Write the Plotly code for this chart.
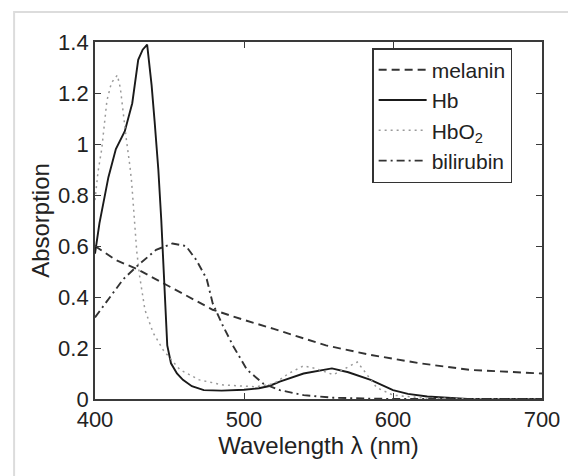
import plotly.graph_objects as go

# ---- data ----
melanin_wl = [400, 414, 428, 444, 459, 479, 500, 520, 555, 585, 618, 652, 700]
melanin_ab = [0.60, 0.545, 0.51, 0.46, 0.415, 0.35, 0.31, 0.275, 0.21, 0.173, 0.14, 0.114, 0.10]

hb_wl = [400, 403, 409, 414, 420, 425, 429, 432, 435, 438, 440, 442.5, 444.5, 446.5, 448.5,
         451, 455, 459, 465, 473, 485, 500, 510, 517, 524, 540, 559, 570, 585, 600, 610, 623,
         640, 650, 700]
hb_ab = [0.57, 0.69, 0.87, 0.98, 1.05, 1.16, 1.33, 1.37, 1.39, 1.23, 1.09, 0.90, 0.70, 0.45, 0.21,
         0.14, 0.10, 0.075, 0.05, 0.035, 0.033, 0.036, 0.042, 0.051, 0.068, 0.10, 0.12, 0.105, 0.075,
         0.035, 0.02, 0.01, 0.003, 0.0, 0.0]

hbo2_wl = [400, 402, 404.5, 406, 408, 411, 415, 417, 418, 419, 421, 422.5, 423.5, 424.6, 425.5,
           426.5, 428, 430, 433.5, 439, 446, 457, 470, 486, 508, 520, 530, 540, 548, 560, 570,
           576, 582, 589, 600, 620, 650, 700]
hbo2_ab = [0.78, 0.89, 0.98, 1.06, 1.17, 1.24, 1.27, 1.22, 1.18, 1.12, 1.02, 0.96, 0.91, 0.85, 0.78,
           0.72, 0.58, 0.48, 0.35, 0.26, 0.19, 0.115, 0.075, 0.055, 0.048, 0.06, 0.10, 0.13, 0.12,
           0.095, 0.125, 0.145, 0.10, 0.045, 0.015, 0.004, 0.001, 0.0]

bili_wl = [400, 410, 419, 428, 441, 452, 461, 468, 475, 479, 486, 493, 502, 513, 524, 540, 560,
           580, 600, 700]
bili_ab = [0.32, 0.40, 0.47, 0.52, 0.585, 0.61, 0.60, 0.545, 0.47, 0.375, 0.285, 0.205, 0.115,
           0.06, 0.035, 0.015, 0.005, 0.002, 0.0, 0.0]

x_ticks = [400, 500, 600, 700]
y_ticks = [0, 0.2, 0.4, 0.6, 0.8, 1, 1.2, 1.4]

FONT = "Arial, Liberation Sans, Helvetica, sans-serif"
TXT = "#222222"

fig = go.Figure()
fig.add_trace(go.Scatter(x=melanin_wl, y=melanin_ab, mode="lines", name="melanin",
                         line=dict(color="#333333", width=1.9, dash="8px,5px")))
fig.add_trace(go.Scatter(x=hb_wl, y=hb_ab, mode="lines", name="Hb",
                         line=dict(color="#1a1a1a", width=1.9)))
fig.add_trace(go.Scatter(x=hbo2_wl, y=hbo2_ab, mode="lines", name="HbO<sub>2</sub>",
                         line=dict(color="#9a9a9a", width=1.5, dash="2px,4px")))
fig.add_trace(go.Scatter(x=bili_wl, y=bili_ab, mode="lines", name="bilirubin",
                         line=dict(color="#333333", width=1.9, dash="8px,4px,2px,4px")))

axis_common = dict(showline=True, linecolor="#3a3a3a", linewidth=1.8, mirror="ticks",
                   ticks="inside", ticklen=6, tickwidth=1.4, tickcolor="#3a3a3a",
                   showgrid=False, zeroline=False,
                   tickfont=dict(family=FONT, size=22, color=TXT))

fig.update_xaxes(range=[400, 700], tickvals=x_ticks,
                 title=dict(text="Wavelength λ (nm)", font=dict(family=FONT, size=24, color=TXT),
                            standoff=0),
                 **axis_common)
fig.update_yaxes(range=[0, 1.4], tickvals=y_ticks,
                 title=dict(text="Absorption", font=dict(family=FONT, size=24, color=TXT),
                            standoff=2),
                 **axis_common)

fig.update_layout(
    width=568, height=468,
    margin=dict(l=87, r=34, t=34, b=77, autoexpand=False),
    paper_bgcolor="white", plot_bgcolor="white",
    showlegend=True,
    legend=dict(x=0.62, y=0.983, xanchor="left", yanchor="top",
                bgcolor="white", bordercolor="#333333", borderwidth=1.5,
                font=dict(family=FONT, size=21, color=TXT),
                itemwidth=48, tracegroupgap=0,
                entrywidth=160, entrywidthmode="pixels"),
    shapes=[dict(type="rect", xref="paper", yref="paper",
                 x0=-0.181, x1=1.065, y0=-0.3, y1=1.084,
                 line=dict(color="#dcdcdc", width=2), layer="below")],
)

fig.write_html("out.html")
